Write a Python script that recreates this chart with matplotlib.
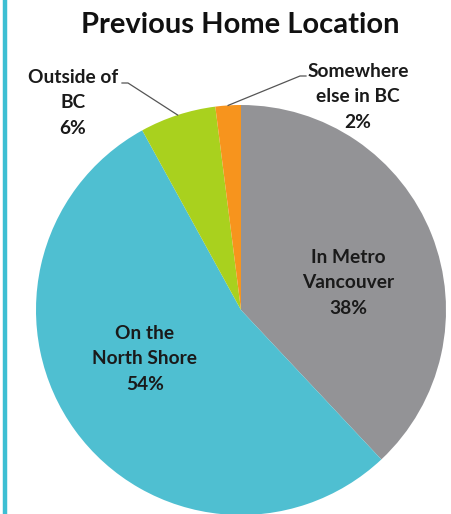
import numpy as np
import matplotlib
matplotlib.use("Agg")
import matplotlib.pyplot as plt

# ---- data ----
categories = ["In Metro\nVancouver", "On the\nNorth Shore", "Outside of\nBC", "Somewhere\nelse in BC"]
values = [38, 54, 6, 2]
colors = ["#939396", "#4FBFD1", "#A9D11E", "#F7941D"]
title = "Previous Home Location"

W, H = 451, 514
fig = plt.figure(figsize=(W / 100, H / 100), dpi=100)
ax = fig.add_axes([0, 0, 1, 1])

plt.rcParams["font.family"] = ["Lato", "DejaVu Sans"]

cx, cy, r = 241, H - 310, 205
wedges, _ = ax.pie(values, colors=colors, startangle=90, counterclock=False,
                   center=(cx, cy), radius=r, frame=True)
ax.set_xlim(0, W)
ax.set_ylim(0, H)
ax.set_aspect("equal")
ax.axis("off")

# left border line
ax.plot([4.5, 4.5], [0, H], color="#3DBFD3", lw=3.2, solid_capstyle="butt")

# title
ax.text(240, H - 25, title, ha="center", va="center", fontsize=21, fontweight="bold", color="#111111")

def lbl(i):
    return f"{categories[i]}\n{values[i]}%"

fs = 13.8
ls = 1.62
tc = "#1a1a1a"
# inside labels
ax.text(348, H - 283, lbl(0), ha="center", va="center", fontsize=fs, fontweight="bold",
        color=tc, linespacing=ls)
ax.text(145, H - 359, lbl(1), ha="center", va="center", fontsize=fs, fontweight="bold",
        color=tc, linespacing=ls)
# outside labels
ax.text(73, H - 103, lbl(2), ha="center", va="center", fontsize=fs, fontweight="bold",
        color=tc, linespacing=ls)
ax.text(358, H - 97, lbl(3), ha="center", va="center", fontsize=fs, fontweight="bold",
        color=tc, linespacing=ls)

# leader lines from mid-wedge edge points
def edge_point(w):
    ang = np.deg2rad((w.theta1 + w.theta2) / 2)
    return cx + r * np.cos(ang), cy + r * np.sin(ang)

px, py = edge_point(wedges[2])
ax.plot([px, 128, 122], [py, H - 83, H - 83], color="#555555", lw=0.9)
px, py = edge_point(wedges[3])
ax.plot([px, 300, 306], [py, H - 76, H - 76], color="#555555", lw=0.9)

fig.savefig("out.png", dpi=100)
